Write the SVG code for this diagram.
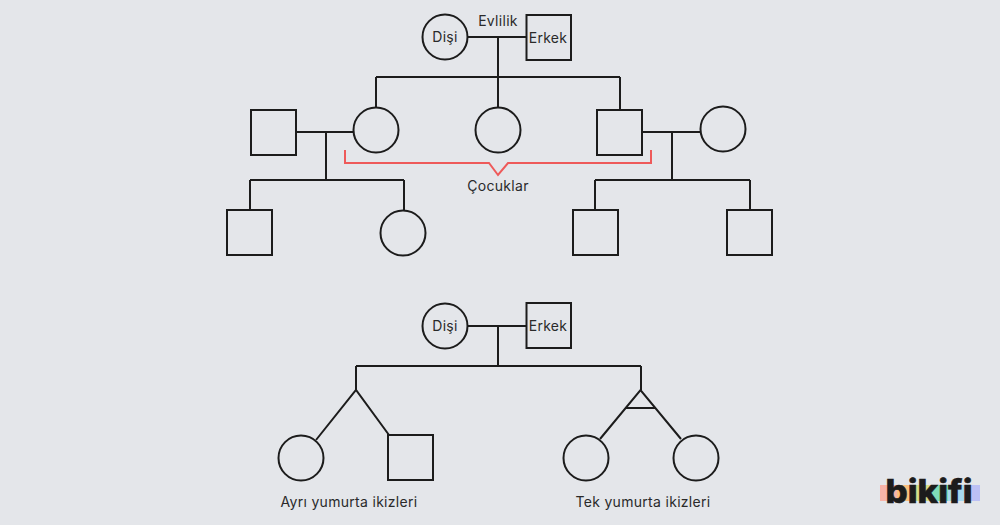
<svg xmlns="http://www.w3.org/2000/svg" width="1000" height="525" viewBox="0 0 1000 525">
<style>
.s{fill:none;stroke:#1c1c1c;stroke-width:2}
.t{font-family:"Inter","Liberation Sans",sans-serif;font-size:14px;letter-spacing:.3px;fill:#2a2a2a;text-anchor:middle}
</style>
<rect width="1000" height="525" fill="#e4e6ea"/>
<g id="connectors" class="s">
<path d="M468 37H527M498 37V77M376 77H620M376 77V107M498 77V107M620 77V110"/>
<path d="M296 132H353M326 132V180M250 180H404M250 180V210M404 180V210"/>
<path d="M642 132H700M672 132V180M595 180H750M595 180V210M750 180V210"/>
<path d="M468 326H527M498 326V366M356 366H641M356 366V390M641 366V390"/>
<path d="M316 440L356 390L389 435"/>
<path d="M600 439L640.500 390L681 439M626 408H656"/>
<path d="M345 150V163H489L498 175L508 163H651V150" stroke="#ee5a5a"/>
</g>
<g id="n-disi-1"><circle class="s" cx="445" cy="37" r="22.500"/><text class="t" x="445" y="42">Dişi</text></g>
<g id="n-erkek-1"><rect class="s" x="526.500" y="15" width="44.500" height="45"/><text class="t" x="548" y="43">Erkek</text></g>
<g id="n-evlilik"><text class="t" x="498" y="26">Evlilik</text></g>
<g id="n-c1"><circle class="s" cx="376" cy="130" r="22.500"/></g>
<g id="n-c2"><circle class="s" cx="498" cy="130" r="22.500"/></g>
<g id="n-c3"><rect class="s" x="597" y="110" width="45" height="45"/></g>
<g id="n-l1"><rect class="s" x="251" y="110" width="45" height="45"/></g>
<g id="n-r1"><circle class="s" cx="723" cy="129" r="22.500"/></g>
<g id="n-l2"><rect class="s" x="227" y="210" width="45" height="45"/></g>
<g id="n-l3"><circle class="s" cx="403" cy="233" r="22.500"/></g>
<g id="n-r2"><rect class="s" x="573" y="210" width="45" height="45"/></g>
<g id="n-r3"><rect class="s" x="727" y="210" width="45" height="45"/></g>
<g id="n-cocuklar"><text class="t" x="498" y="191">Çocuklar</text></g>
<g id="n-disi-2"><circle class="s" cx="445" cy="326" r="22.500"/><text class="t" x="445" y="331">Dişi</text></g>
<g id="n-erkek-2"><rect class="s" x="526.500" y="303" width="44.500" height="45"/><text class="t" x="548" y="331">Erkek</text></g>
<g id="n-t1"><circle class="s" cx="301" cy="458" r="22.500"/></g>
<g id="n-t2"><rect class="s" x="388" y="435" width="45" height="45"/></g>
<g id="n-t3"><circle class="s" cx="586" cy="458" r="22.500"/></g>
<g id="n-t4"><circle class="s" cx="696" cy="458" r="22.500"/></g>
<g id="n-ayri"><text class="t" x="349" y="507">Ayrı yumurta ikizleri</text></g>
<g id="n-tek"><text class="t" x="643" y="507">Tek yumurta ikizleri</text></g>
<g id="logo">
<rect x="880" y="485" width="17" height="16" fill="#f7b3a8"/>
<rect x="897" y="485" width="17" height="16" fill="#fbc07e"/>
<rect x="914" y="485" width="17" height="16" fill="#d9dd8c"/>
<rect x="931" y="485" width="17" height="16" fill="#7fdcb8"/>
<rect x="948" y="485" width="16" height="16" fill="#a6d8ef"/>
<rect x="964" y="485" width="16" height="16" fill="#bcc0f5"/>
<text x="929" y="503" font-family="Inter,'Liberation Sans',sans-serif" font-size="33" font-weight="800" fill="#1c1c1c" stroke="#1c1c1c" stroke-width=".6" text-anchor="middle" textLength="87" lengthAdjust="spacingAndGlyphs">bikifi</text>
</g>
</svg>
